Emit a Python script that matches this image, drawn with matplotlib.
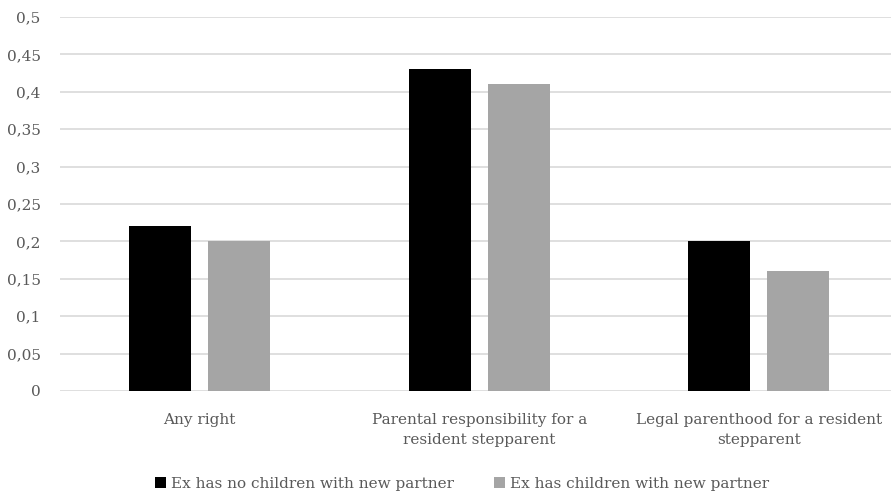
import matplotlib.pyplot as plt
import numpy as np

# data
categories = ['Any right',
              'Parental responsibility for a\nresident stepparent',
              'Legal parenthood for a resident\nstepparent']
no_children = [0.22, 0.43, 0.20]
has_children = [0.20, 0.41, 0.16]
series_names = ['Ex has no children with new partner', 'Ex has children with new partner']
yticks = [0, 0.05, 0.1, 0.15, 0.2, 0.25, 0.3, 0.35, 0.4, 0.45, 0.5]
ytick_labels = ['0', '0,05', '0,1', '0,15', '0,2', '0,25', '0,3', '0,35', '0,4', '0,45', '0,5']

plt.rcParams['font.family'] = ['DejaVu Serif']
txt_color = '#595959'

W, H = 891, 494
fig = plt.figure(figsize=(W / 100, H / 100), dpi=100)
# axes from x=60 to 898.5 px (3 categories of 279.5 px), y from 17 to 391 px
ax = fig.add_axes([60 / W, 1 - 391 / H, 838.5 / W, 374 / H])

x = np.arange(len(categories))
bw = 0.222
off = 0.141
ax.bar(x - off, no_children, bw, color='black', label=series_names[0], zorder=3)
ax.bar(x + off, has_children, bw, color='#a5a5a5', label=series_names[1], zorder=3)

ax.set_xlim(-0.5, 2.5)
ax.set_ylim(0, 0.5)
ax.set_yticks(yticks)
ax.set_yticklabels(ytick_labels)
ax.set_xticks(x)
ax.set_xticklabels(categories, linespacing=1.55)
ax.yaxis.grid(True, color='#d9d9d9', linewidth=1.2, zorder=0)
ax.set_axisbelow(True)
for s in ['top', 'right', 'left', 'bottom']:
    ax.spines[s].set_visible(False)
ax.tick_params(axis='both', length=0, colors=txt_color, labelsize=11)
ax.tick_params(axis='y', pad=14)
ax.tick_params(axis='x', pad=16)

leg = fig.legend(loc='center', bbox_to_anchor=(462 / W, 1 - 484 / H), ncol=2, frameon=False,
                 fontsize=11, handlelength=0.75, handleheight=0.75, handletextpad=0.3,
                 columnspacing=2.6)
for t in leg.get_texts():
    t.set_color(txt_color)

fig.savefig('out.png', dpi=100)
